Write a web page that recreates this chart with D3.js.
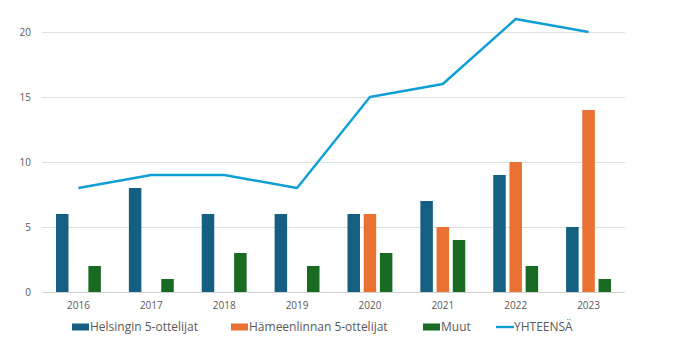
<!DOCTYPE html>
<html>
<head>
<meta charset="utf-8">
<script src="https://cdn.jsdelivr.net/npm/d3@7"></script>
<style>
  html, body { margin: 0; padding: 0; background: #fff; }
  svg { display: block; }
</style>
</head>
<body>
<svg id="chart" width="679" height="341"></svg>
<script>
// Participants per year
const years = ["2016", "2017", "2018", "2019", "2020", "2021", "2022", "2023"];
const helsinki = [6, 8, 6, 6, 6, 7, 9, 5];
const hameenlinna = [0, 0, 0, 0, 6, 5, 10, 14];
const muut = [2, 1, 3, 2, 3, 4, 2, 1];
const yhteensa = [8, 9, 9, 8, 15, 16, 21, 20];
const yTicks = [0, 5, 10, 15, 20];

const seriesNames = ["Helsingin 5-ottelijat", "Hämeenlinnan 5-ottelijat", "Muut", "YHTEENSÄ"];
const colors = ["#156082", "#e97132", "#196b24", "#0f9ed5"];

const svg = d3.select("#chart");
const font = "'Open Sans', 'Noto Sans', sans-serif";

const x = d3.scaleBand().domain(years).range([42, 625]);
const y = d3.scaleLinear().domain([0, 20]).range([292, 32]);

// gridlines
svg.append("g")
  .selectAll("line")
  .data(yTicks)
  .join("line")
  .attr("x1", 42).attr("x2", 625)
  .attr("y1", d => y(d) + 0.5).attr("y2", d => y(d) + 0.5)
  .attr("stroke", d => d === 0 ? "#d0d0d0" : "#e0e0e0")
  .attr("stroke-width", 1);

// y labels
svg.append("g")
  .selectAll("text")
  .data(yTicks)
  .join("text")
  .attr("x", 31)
  .attr("y", d => y(d))
  .attr("dy", "0.35em")
  .attr("text-anchor", "end")
  .attr("font-family", font)
  .attr("font-size", 10)
  .attr("fill", "#595959")
  .text(d => d);

// x labels
svg.append("g")
  .selectAll("text")
  .data(years)
  .join("text")
  .attr("x", d => x(d) + x.bandwidth() / 2)
  .attr("y", 309)
  .attr("text-anchor", "middle")
  .attr("font-family", font)
  .attr("font-size", 10)
  .attr("fill", "#595959")
  .text(d => d);

// clustered bars
const slot = d3.scaleBand().domain([0, 1, 2]).range([-22.45, 22.45]).paddingInner(0.228).paddingOuter(0);
const barSeries = [helsinki, hameenlinna, muut];
barSeries.forEach((vals, si) => {
  svg.append("g")
    .selectAll("rect")
    .data(years.map((yr, i) => ({ yr, v: vals[i] })))
    .join("rect")
    .attr("x", d => x(d.yr) + x.bandwidth() / 2 + slot(si))
    .attr("width", slot.bandwidth())
    .attr("y", d => y(d.v))
    .attr("height", d => y(0) - y(d.v))
    .attr("fill", colors[si]);
});

// total line
const line = d3.line()
  .x((d, i) => x(years[i]) + x.bandwidth() / 2)
  .y(d => y(d));
svg.append("path")
  .datum(yhteensa)
  .attr("d", line)
  .attr("fill", "none")
  .attr("stroke", colors[3])
  .attr("stroke-width", 2.4)
  .attr("stroke-linejoin", "round");

// legend
const legendItems = [
  { name: seriesNames[0], color: colors[0], type: "rect", x: 72 },
  { name: seriesNames[1], color: colors[1], type: "rect", x: 231 },
  { name: seriesNames[2], color: colors[2], type: "rect", x: 423 },
  { name: seriesNames[3], color: colors[3], type: "line", x: 496 }
];
const lg = svg.append("g");
legendItems.forEach(it => {
  if (it.type === "rect") {
    lg.append("rect").attr("x", it.x).attr("y", 323.5).attr("width", 17).attr("height", 7).attr("fill", it.color);
  } else {
    lg.append("line").attr("x1", it.x).attr("x2", it.x + 18).attr("y1", 327).attr("y2", 327)
      .attr("stroke", it.color).attr("stroke-width", 2.4);
  }
  lg.append("text")
    .attr("x", it.x + 18)
    .attr("y", 327)
    .attr("dy", "0.35em")
    .attr("font-family", font)
    .attr("font-size", 12)
    .attr("fill", "#595959")
    .text(it.name);
});
</script>
</body>
</html>
